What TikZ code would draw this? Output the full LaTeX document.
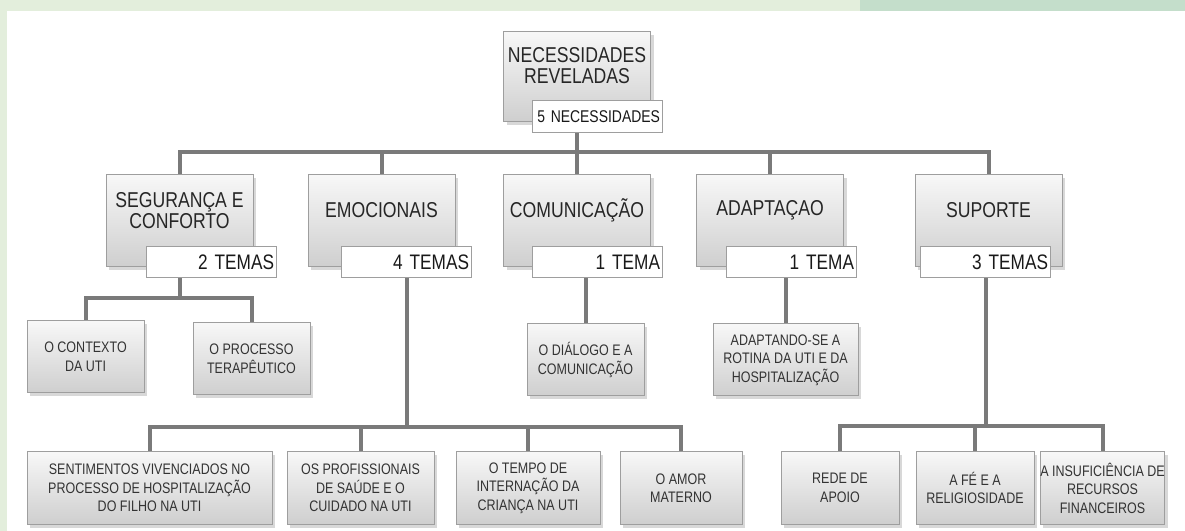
\documentclass[tikz,border=0pt]{standalone}
\usepackage{fontspec}
\setmainfont{Liberation Sans}[FakeStretch=0.82]
\usepackage{tikz}
\usetikzlibrary{positioning,shadows,backgrounds}
\definecolor{bandlight}{HTML}{E3EEDC}
\definecolor{banddark}{HTML}{C4DECB}

\begin{document}
\begin{tikzpicture}[x=0.4pt,y=-0.4pt]

\tikzset{graybox/.style={rectangle, draw=black!38, top color=black!3, bottom color=black!19,
   drop shadow={shadow xshift=1.2pt, shadow yshift=-1.4pt, opacity=0.3},
   inner sep=0pt, minimum width={#1*0.4pt}},
graybox/.default=147,
bigbox/.style={graybox=147, minimum height=36.8pt},
bigtext/.style={anchor=north, align=center, inner sep=0pt, minimum height=28.4pt,
   font=\fontsize{8.6}{8.4}\selectfont, text=black!85},
smallbox/.style={graybox=#1, minimum height=28.8pt, align=center,
   font=\fontsize{6.1}{7.4}\selectfont, text=black!80},
tagbox/.style={rectangle, draw=black!38, fill=white, anchor=north east,
   minimum height=12.4pt, inner xsep=1pt, inner ysep=0pt, text width=50pt, align=right,
   font=\fontsize{8.4}{8.4}\selectfont, text=black!90},
link/.style={draw=black!52, line width=1.6pt}}

\useasboundingbox (0,0) rectangle (1185,531);

% root
\node[bigbox, minimum height=36pt] (nec) at (577,77) {};
\node[bigtext, minimum height=27.2pt] (nec-t) at (nec.north) {NECESSIDADES\\REVELADAS};
\node[tagbox, font=\fontsize{6.8}{6.8}\selectfont, minimum height=12.8pt] (nec-k) at (663,100) {5 NECESSIDADES};

% the five needs
\foreach \n/\x/\tx/\t/\k in {seg/179.5/277/{SEGURANÇA E\\CONFORTO}/2 TEMAS,
   emo/381.5/472/EMOCIONAIS/4 TEMAS, com/577/663/COMUNICAÇÃO/1 TEMA,
   ada/770/857/ADAPTAÇAO/1 TEMA, sup/988.5/1051/SUPORTE/3 TEMAS}
{
  \node[bigbox] (\n) at (\x,221) {};
  \node[bigtext] (\n-t) at (\n.north) {\t};
  \node[tagbox] (\n-k) at (\tx,246) {\k};
}

% themes
\foreach \n/\x/\y/\w/\t in {ctx/85.5/357/117/{O CONTEXTO\\DA UTI},
   ter/251.5/359/117/{O PROCESSO\\TERAPÊUTICO},
   dia/585.5/360/117/{O DIÁLOGO E A\\COMUNICAÇÃO},
   rot/785.5/360/145/{ADAPTANDO-SE A\\ROTINA DA UTI E DA\\HOSPITALIZAÇÃO},
   sen/149.5/488/245/{SENTIMENTOS VIVENCIADOS NO\\PROCESSO DE HOSPITALIZAÇÃO\\DO FILHO NA UTI},
   pro/360.5/488/147/{OS PROFISSIONAIS\\DE SAÚDE E O\\CUIDADO NA UTI},
   tem/528/488/144/{O TEMPO DE\\INTERNAÇÃO DA\\CRIANÇA NA UTI},
   amo/681/488/122/{O AMOR\\MATERNO},
   red/840/488/118/{REDE DE\\APOIO},
   fe/975/488/118/{A FÉ E A\\RELIGIOSIDADE},
   ins/1102.5/488/119/{A INSUFICIÊNCIA DE\\RECURSOS\\FINANCEIROS}}
  \node[smallbox=\w] (\n) at (\x,\y) {\t};

\begin{pgfonlayer}{background}
\fill[bandlight] (0,0) rectangle (1185,11);
\fill[bandlight] (0,0) rectangle (7,531);
\fill[banddark] (860,0) rectangle (1185,11);
\fill[white] (7,11) rectangle (1185,531);

\foreach \c in {seg,emo,com,ada,sup}
  \draw[link] (nec.south) -- ++(0,30) -| (\c.north);

\foreach \c in {ctx,ter}
  \draw[link] (seg.south) -- ++(0,31) -| (\c.north);

\draw[link] (dia.north) -- (dia.north |- com-k.south);
\draw[link] (rot.north) -- (rot.north |- ada-k.south);

\foreach \c in {sen,pro,tem,amo}
  \draw[link] (emo-k.south) -- ++(0,149) -| (\c.north);

\foreach \c in {red,fe,ins}
  \draw[link] (sup-k.south) -- ++(0,148) -| (\c.north);
\end{pgfonlayer}

\end{tikzpicture}
\end{document}
